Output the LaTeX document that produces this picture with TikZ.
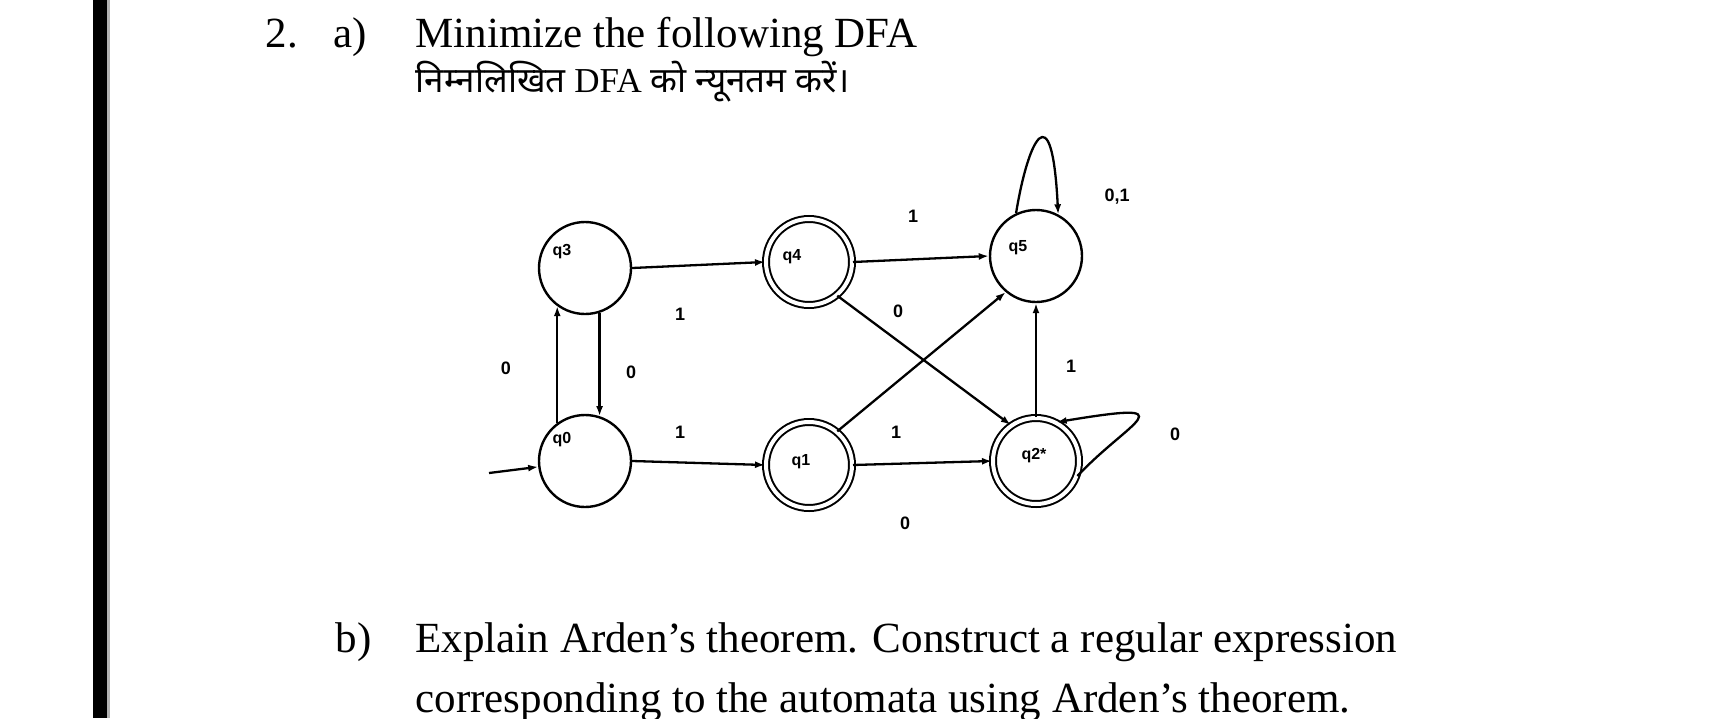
\documentclass[tikz,border=0pt]{standalone}
\usepackage{fontspec}
\setmainfont{Liberation Serif}
\newfontfamily\devfont[Script=Devanagari]{Noto Sans}
\newfontfamily\lblfont{Liberation Sans}
\usetikzlibrary{arrows.meta}
\begin{document}
\begin{tikzpicture}[x=1pt,y=-1pt,
  st/.style={circle,draw,line width=2.4pt,minimum size=92pt,inner sep=0pt},
  acc/.style={st,double,line width=2pt,double distance=4pt,minimum size=86pt},
  nm/.style={font=\lblfont\bfseries\fontsize{16}{16}\selectfont},
  lb/.style={font=\lblfont\bfseries\fontsize{18}{18}\selectfont},
  tx/.style={anchor=base west,font=\fontsize{43}{46}\selectfont},
  ed/.style={-{Latex[length=10pt,width=7pt]},line width=2.3pt}]
\useasboundingbox (0,0) rectangle (1714,718);
\fill[black] (93,0) rectangle (107,718);
\fill[gray!60] (107,0) rectangle (110,718);
\node[tx] (n2) at (262,47) {2.};
\node[tx] (na) at (330,47) {a)};
\node[tx] (t1) at (412,47) {Minimize the following DFA};
\node[tx,font=\fontsize{35}{38}\selectfont] (t2) at (412,92) {{\devfont निम्नलिखित} DFA {\devfont को न्यूनतम करें।}};
\node[tx] (nb) at (332,652) {b)};
\node[tx] (t3) at (412,652) {Explain Arden's theorem. Construct a regular expression};
\node[tx] (t4) at (412,712) {corresponding to the automata using Arden's theorem.};

\node[st] (q3) at (585,268) {}; \node[nm] at (562,252) {q3};
\node[acc] (q4) at (809,262) {}; \node[nm] at (792,257) {q4};
\node[st] (q5) at (1036,256) {}; \node[nm] at (1018,248) {q5};
\node[st] (q0) at (585,461) {}; \node[nm] at (562,440) {q0};
\node[acc] (q1) at (809,465) {}; \node[nm] at (801,462) {q1};
\node[acc] (q2) at (1036,461) {}; \node[nm] at (1034,456) {q2*};

\coordinate (s) at (489,473);
\draw[ed] (s) -- (q0);
\draw[ed] (q0.126) -- (q3.-126);
\draw[ed] (q3.-72) -- (q0.72);
\draw[ed] (q3.east) -- (q4.west);
\draw[ed] (q0.east) -- (q1.west);
\draw[ed] (q4.east) -- (q5.west);
\draw[ed] (q1.east) -- (q2.west);
\draw[ed] (q4.-50) -- (q2.125);
\draw[ed] (q1.50) -- (q5.-130);
\draw[ed] (q2.north) -- (q5.south);
\draw[ed] (q5.115) .. controls (1028,140) and (1052,90) .. (q5.62);
\draw[ed] (q2.-20) .. controls (1130,420) and (1190,400) .. (q2.62);

\node[lb] at (913,216) {1};
\node[lb] at (680,314) {1};
\node[lb] at (898,311) {0};
\node[lb] at (506,368) {0};
\node[lb] at (631,372) {0};
\node[lb] at (680,432) {1};
\node[lb] at (896,432) {1};
\node[lb] at (905,523) {0};
\node[lb] at (1071,366) {1};
\node[lb] at (1117,197) {0,1};
\node[lb] at (1175,434) {0};
\end{tikzpicture}
\end{document}
